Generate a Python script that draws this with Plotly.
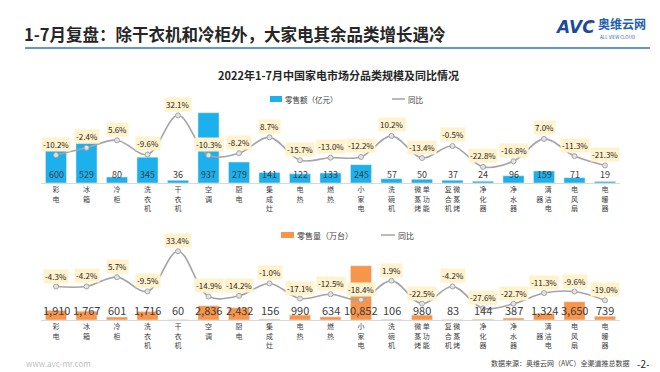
import plotly.graph_objects as go

# ---------------- data ----------------
categories = ["彩电", "冰箱", "冷柜", "洗衣机", "干衣机", "空调", "厨电", "集成灶", "电热", "燃热",
              "小家电", "洗碗机", "单功能微蒸烤", "微蒸烤复合机", "净化器", "净水器", "清洁电器", "电风扇", "电暖器"]
sales_value = [600, 529, 80, 345, 36, 937, 279, 141, 122, 133, 245, 57, 50, 37, 24, 96, 159, 71, 19]
sales_value_yoy = [-10.2, -2.4, 5.6, -9.6, 32.1, -10.3, -8.2, 8.7, -15.7, -13.0, -12.2, 10.2, -13.4,
                   -0.5, -22.8, -16.8, 7.0, -11.3, -21.3]
sales_volume = [1910, 1767, 601, 1716, 60, 2836, 2432, 156, 990, 634, 10852, 106, 980, 83, 144, 387,
                1324, 3650, 739]
sales_volume_yoy = [-4.3, -4.2, 5.7, -9.5, 33.4, -14.9, -14.2, -1.0, -17.1, -12.5, -18.4, 1.9, -22.5,
                    -4.2, -27.6, -22.7, -11.3, -9.6, -19.0]

W, H = 660, 372
FONT = "Noto Sans CJK SC"
BLUE = "#1CB0EC"
ORANGE = "#F7964A"
GREY = "#A5A5A5"
TXT = "#404040"


def px(x):
    return x / W


def py(y):
    return 1 - y / H


def vertical(name):
    if len(name) <= 3:
        return "<br>".join(name)
    right = name[:3]
    left = name[3:]
    if len(left) == 1:
        left_col = ["\u3000", left, "\u3000"]
    else:
        left_col = list(left) + ["\u3000"] * (3 - len(left))
    rows = [left_col[i] + "\u00a0" + right[i] for i in range(3)]
    return "<br>".join(rows)


ticktext = [vertical(c) for c in categories]

fig = go.Figure()

# top chart
fig.add_trace(go.Bar(x=categories, y=sales_value, marker_color=BLUE, xaxis="x", yaxis="y",
                     name="零售额（亿元）", hoverinfo="skip"))
fig.add_trace(go.Scatter(x=categories, y=sales_value_yoy, xaxis="x", yaxis="y2", mode="lines+markers",
                         line=dict(color=GREY, width=1.6, shape="spline", smoothing=1.0),
                         marker=dict(size=5, color="#E3E3E3", line=dict(color=GREY, width=1)),
                         name="同比", hoverinfo="skip"))
# bottom chart
fig.add_trace(go.Bar(x=categories, y=sales_volume, marker_color=ORANGE, xaxis="x2", yaxis="y3",
                     name="零售量（万台）", hoverinfo="skip"))
fig.add_trace(go.Scatter(x=categories, y=sales_volume_yoy, xaxis="x2", yaxis="y4", mode="lines+markers",
                         line=dict(color=GREY, width=1.6, shape="spline", smoothing=1.0),
                         marker=dict(size=5, color="#E3E3E3", line=dict(color=GREY, width=1)),
                         name="同比", hoverinfo="skip"))

xdom = [px(32.75), px(612.25)]
xcommon = dict(type="category", range=[-0.5, len(categories) - 0.5], domain=xdom,
               tickmode="array", tickvals=categories, ticktext=ticktext,
               tickfont=dict(size=7, color=TXT, family=FONT), showgrid=False,
               showline=True, linecolor="#D9D9D9", linewidth=1, ticks="", zeroline=False)

fig.update_layout(
    width=W, height=H, margin=dict(l=0, r=0, t=0, b=0),
    paper_bgcolor="white", plot_bgcolor="rgba(0,0,0,0)",
    showlegend=False, bargap=0.31,
    font=dict(family=FONT, color=TXT),
    xaxis=dict(anchor="y", **xcommon),
    yaxis=dict(domain=[py(175), py(100)], range=[0, 1000], visible=False, fixedrange=True),
    yaxis2=dict(overlaying="y", range=[-40, 40], visible=False),
    xaxis2=dict(anchor="y3", **xcommon),
    yaxis3=dict(domain=[py(312), py(237)], range=[0, 15000], visible=False),
    yaxis4=dict(overlaying="y3", range=[-40, 40], visible=False),
)

ann = []
shapes = []

# value labels
for c, v in zip(categories, sales_value):
    ann.append(dict(x=c, y=0, xref="x", yref="y", text=f"{v:,}", showarrow=False,
                    yanchor="middle", yshift=9, font=dict(size=9, color=TXT, family=FONT)))
for c, v in zip(categories, sales_volume):
    ann.append(dict(x=c, y=0, xref="x2", yref="y3", text=f"{v:,}", showarrow=False,
                    yanchor="middle", yshift=10, font=dict(size=11, color=TXT, family=FONT)))
# yoy labels
for c, v in zip(categories, sales_value_yoy):
    ann.append(dict(x=c, y=v, xref="x", yref="y2", text=f"{v:.1f}%", showarrow=False,
                    yanchor="middle", yshift=11, bgcolor="#FFF2CC", borderpad=1,
                    font=dict(size=8, color="#262626", family=FONT)))
for c, v in zip(categories, sales_volume_yoy):
    ann.append(dict(x=c, y=v, xref="x2", yref="y4", text=f"{v:.1f}%", showarrow=False,
                    yanchor="middle", yshift=10.5, bgcolor="#FFF2CC", borderpad=1,
                    font=dict(size=8, color="#262626", family=FONT)))

# header
ann.append(dict(x=px(14), y=py(26), xref="paper", yref="paper", xanchor="left", yanchor="middle",
                text="<b>1-7月复盘：除干衣机和冷柜外，大家电其余品类增长遇冷</b>", showarrow=False,
                font=dict(size=16.5, color="#262626", family=FONT)))
shapes.append(dict(type="line", xref="paper", yref="paper", x0=px(17), x1=px(642), y0=py(40), y1=py(40),
                   line=dict(color="#2E75B6", width=1.5)))
# logo
ann.append(dict(x=px(545), y=py(19), xref="paper", yref="paper", xanchor="left", yanchor="middle",
                text="<b><i>AVC</i></b>", showarrow=False, font=dict(size=17, color="#1D4B9B", family="DejaVu Sans")))
shapes.append(dict(type="circle", xref="paper", yref="paper", x0=px(580), x1=px(584), y0=py(16), y1=py(12),
                   fillcolor="#F29A2E", line=dict(width=0)))
ann.append(dict(x=px(588), y=py(16), xref="paper", yref="paper", xanchor="left", yanchor="middle",
                text="<b>奥维云网</b>", showarrow=False, font=dict(size=12, color="#1F5FAD", family=FONT)))
ann.append(dict(x=px(590), y=py(28.5), xref="paper", yref="paper", xanchor="left", yanchor="middle",
                text="ALL VIEW CLOUD", showarrow=False, font=dict(size=4.5, color="#1F5FAD", family=FONT)))

# chart title
ann.append(dict(x=px(330), y=py(67), xref="paper", yref="paper", xanchor="center", yanchor="middle",
                text="<b>2022年1-7月中国家电市场分品类规模及同比情况</b>", showarrow=False,
                font=dict(size=11, color="#262626", family=FONT)))

# legends (top)
shapes.append(dict(type="rect", xref="paper", yref="paper", x0=px(262), x1=px(274), y0=py(94), y1=py(88),
                   fillcolor=BLUE, line=dict(width=0)))
ann.append(dict(x=px(275), y=py(91), xref="paper", yref="paper", xanchor="left", yanchor="middle",
                text="零售额（亿元）", showarrow=False, font=dict(size=7.5, color=TXT, family=FONT)))
shapes.append(dict(type="line", xref="paper", yref="paper", x0=px(384), x1=px(397), y0=py(91), y1=py(91),
                   line=dict(color=GREY, width=1.5)))
ann.append(dict(x=px(398), y=py(91), xref="paper", yref="paper", xanchor="left", yanchor="middle",
                text="同比", showarrow=False, font=dict(size=7.5, color=TXT, family=FONT)))
# legends (bottom)
shapes.append(dict(type="rect", xref="paper", yref="paper", x0=px(273), x1=px(286), y0=py(230), y1=py(224),
                   fillcolor=ORANGE, line=dict(width=0)))
ann.append(dict(x=px(287), y=py(227), xref="paper", yref="paper", xanchor="left", yanchor="middle",
                text="零售量（万台）", showarrow=False, font=dict(size=8, color=TXT, family=FONT)))
shapes.append(dict(type="line", xref="paper", yref="paper", x0=px(373), x1=px(387), y0=py(227), y1=py(227),
                   line=dict(color=GREY, width=1.5)))
ann.append(dict(x=px(388), y=py(227), xref="paper", yref="paper", xanchor="left", yanchor="middle",
                text="同比", showarrow=False, font=dict(size=8, color=TXT, family=FONT)))

# footer
ann.append(dict(x=px(16), y=py(355), xref="paper", yref="paper", xanchor="left", yanchor="middle",
                text="www.avc-mr.com", showarrow=False, font=dict(size=8, color="#BFBFBF", family=FONT)))
ann.append(dict(x=px(624), y=py(355), xref="paper", yref="paper", xanchor="right", yanchor="middle",
                text="数据来源：奥维云网（AVC）全渠道推总数据", showarrow=False,
                font=dict(size=7, color="#404040", family=FONT)))
ann.append(dict(x=px(644), y=py(355), xref="paper", yref="paper", xanchor="right", yanchor="middle",
                text="-2-", showarrow=False, font=dict(size=10, color="#262626", family=FONT)))

fig.update_layout(annotations=ann, shapes=shapes)
fig.write_html("out.html")
